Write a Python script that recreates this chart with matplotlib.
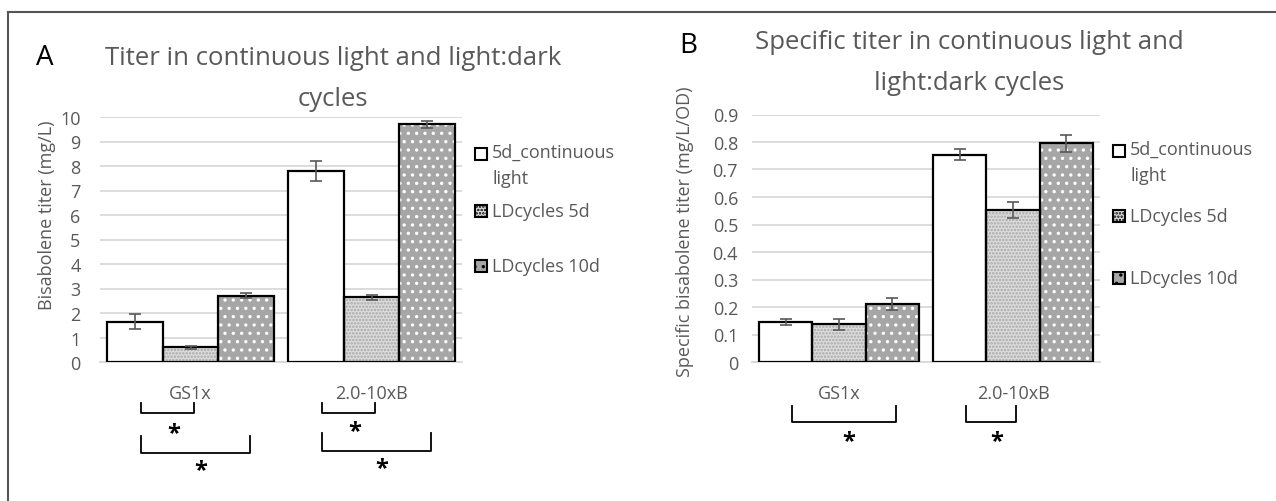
import numpy as np
import matplotlib
matplotlib.use("Agg")
import matplotlib.pyplot as plt
from matplotlib.patches import Rectangle
from matplotlib.transforms import blended_transform_factory

plt.rcParams['font.family'] = ['Open Sans', 'DejaVu Sans']
plt.rcParams['hatch.linewidth'] = 1.2

# data
strains = ['GS1x', '2.0-10xB']
series = ['5d_continuous\nlight', 'LDcycles 5d', 'LDcycles 10d']

titer = [[1.65, 0.6, 2.7],
         [7.8, 2.65, 9.7]]
titer_err = [[0.3, 0.05, 0.1],
             [0.4, 0.1, 0.15]]

spec = [[0.145, 0.137, 0.211],
        [0.754, 0.553, 0.795]]
spec_err = [[0.01, 0.02, 0.022],
            [0.02, 0.03, 0.032]]

# significance brackets: (group, bar_from, bar_to, top, bottom, star_y) in pixels from top
brackets_a = [(0, 0, 1, 404, 414, 434),
              (0, 0, 2, 437, 454, 471),
              (1, 0, 1, 404, 414, 432),
              (1, 0, 2, 434, 452, 469)]
brackets_b = [(0, 0, 2, 407, 423, 442),
              (1, 0, 1, 407, 423, 442)]

W, H = 1276, 502
gray_txt = '#595959'
styles = [dict(color='white', hatch=None, hcol='white'),
          dict(color='#dcdcdc', hatch='.....', hcol='#a8a8a8'),
          dict(color='#a6a6a6', hatch='..', hcol='white')]

fig = plt.figure(figsize=(12.76, 5.02), dpi=100)

# outer frame (top and left edge only)
fig.add_artist(plt.Line2D([8 / W, 1], [1 - 12.5 / H] * 2, color='#555555', lw=1.5))
fig.add_artist(plt.Line2D([8 / W] * 2, [0, 1 - 12.5 / H], color='#555555', lw=1.5))


def panel(left, right, top, ymax, ystep, vals, errs, ylabel, lab_xy, ypad, brackets, fmt):
    bottom = 363
    ax = fig.add_axes([left / W, 1 - bottom / H, (right - left) / W, (bottom - top) / H])
    x = np.arange(len(strains))
    w = 0.306
    for i in range(3):
        st = styles[i]
        v = [vals[g][i] for g in range(len(strains))]
        e = [errs[g][i] for g in range(len(strains))]
        pos = x + (i - 1) * w
        ax.bar(pos, v, w, color=st['color'], hatch=st['hatch'],
               edgecolor=st['hcol'], linewidth=0, zorder=2)
        ax.bar(pos, v, w, fill=False, edgecolor='black', linewidth=1.6, zorder=3)
        ax.errorbar(pos, v, yerr=e, fmt='none', ecolor=gray_txt, elinewidth=1.2,
                    capsize=4, capthick=1.2, zorder=4)
    ticks = np.arange(0, ymax + ystep / 2, ystep)
    ax.set_xlim(-0.5, 1.5)
    ax.set_ylim(0, ymax)
    ax.set_yticks(ticks)
    ax.set_yticklabels([fmt(t) for t in ticks])
    ax.yaxis.grid(True, color='#d9d9d9', lw=1.3, zorder=0)
    ax.set_axisbelow(True)
    for s in ['top', 'right', 'left']:
        ax.spines[s].set_visible(False)
    ax.spines['bottom'].set_color('#d9d9d9')
    ax.spines['bottom'].set_linewidth(1.3)
    ax.set_xticks(x)
    ax.set_xticklabels(strains)
    ax.tick_params(length=0, colors=gray_txt, labelsize=13)
    ax.tick_params(axis='x', pad=16)
    ax.tick_params(axis='y', pad=ypad)
    ax.set_ylabel(ylabel, color=gray_txt, fontsize=13)
    # label anchor is the right-hand edge of the rotated text
    ax.yaxis.set_label_coords((lab_xy[0] + 9 - left) / (right - left),
                              (bottom - lab_xy[1]) / (bottom - top))

    tr = blended_transform_factory(ax.transData, fig.transFigure)
    for g, a, b, btop, bbot, sy in brackets:
        x0 = g + (a - 1) * w + 0.035
        x1 = g + (b - 1) * w + 0.02
        ax.plot([x0, x0, x1, x1], [1 - btop / H, 1 - bbot / H, 1 - bbot / H, 1 - btop / H],
                color='black', lw=1.3, transform=tr, clip_on=False)
        ax.text((x0 + x1) / 2 + 0.03, 1 - sy / H, '*', transform=tr, ha='center',
                va='center', fontsize=17, fontweight='bold', color='black')
    return ax


def legend(sq_x, txt_x, rows):
    # rows: y pixel of each entry (square centre / first text line centre)
    for i, y in enumerate(rows):
        st = styles[i]
        fig.add_artist(Rectangle((sq_x / W, 1 - (y + 6) / H), 12 / W, 12 / H,
                                 facecolor=st['color'], hatch=st['hatch'],
                                 edgecolor='black', linewidth=1.5,
                                 transform=fig.transFigure))
        if '\n' in series[i]:
            fig.text(txt_x / W, 1 - (y - 11) / H, series[i], ha='left', va='top',
                     fontsize=13, color=gray_txt, linespacing=1.6)
        else:
            fig.text(txt_x / W, 1 - y / H, series[i], ha='left', va='center',
                     fontsize=13, color=gray_txt)


def fmt_a(t):
    return '%d' % round(t)


def fmt_b(t):
    return '0' if t == 0 else ('%.1f' % t)


ax_a = panel(100, 462, 118, 10, 1, titer, titer_err, 'Bisabolene titer (mg/L)',
             (47, 215), 14, brackets_a, fmt_a)
ax_b = panel(752, 1100, 115.5, 0.9, 0.1, spec, spec_err,
             'Specific bisabolene titer (mg/L/OD)', (685, 232), 10, brackets_b, fmt_b)

legend(475, 492, [155, 212, 267])
legend(1113, 1130, [152, 217, 279])

fig.text(333 / W, 1 - 79 / H, 'Titer in continuous light and light:dark\ncycles',
         ha='center', va='center', fontsize=18.5, color=gray_txt, linespacing=1.85)
fig.text(969 / W, 1 - 63 / H, 'Specific titer in continuous light and\nlight:dark cycles',
         ha='center', va='center', fontsize=18.5, color=gray_txt, linespacing=1.85)
fig.text(45 / W, 1 - 58 / H, 'A', ha='center', va='center', fontsize=20, color='black')
fig.text(688 / W, 1 - 46 / H, 'B', ha='center', va='center', fontsize=20, color='black')

fig.savefig('out.png', dpi=100)
